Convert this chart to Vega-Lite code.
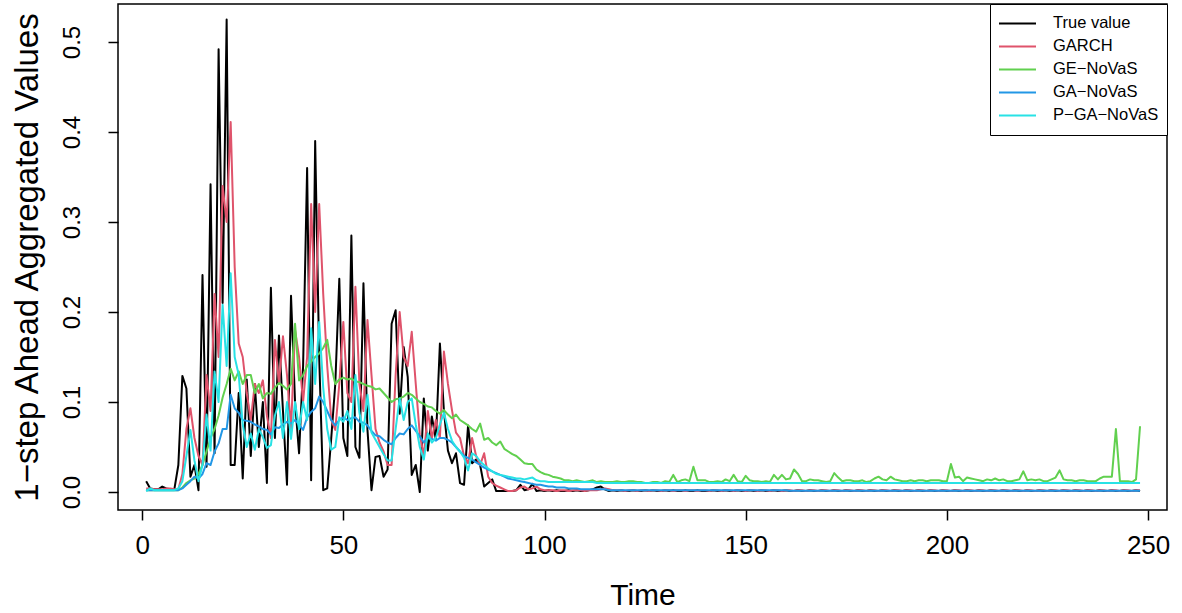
{
"$schema": "https://vega.github.io/schema/vega-lite/v6.json",
"width": 1049, "height": 506,
"autosize": {"type": "none"},
"padding": {"left": 118, "top": 4, "right": 15, "bottom": 103},
"background": "white",
"config": {
  "font": "Liberation Sans",
  "view": {"stroke": "black", "strokeWidth": 1.5},
  "axis": {"grid": false, "domain": false, "tickColor": "black", "tickWidth": 1.5, "tickSize": 10, "labelColor": "black", "titleColor": "black", "titleFontWeight": "normal"}
},
"data": {"values": [
{"t":1,"tv":0.012,"garch":0.004,"ge":0.002,"ga":0.002,"pga":0.001},
{"t":2,"tv":0.004,"garch":0.004,"ge":0.002,"ga":0.002,"pga":0.004},
{"t":3,"tv":0.003,"garch":0.003,"ge":0.002,"ga":0.002,"pga":0.002},
{"t":4,"tv":0.003,"garch":0.003,"ge":0.002,"ga":0.002,"pga":0.002},
{"t":5,"tv":0.006,"garch":0.003,"ge":0.002,"ga":0.002,"pga":0.002},
{"t":6,"tv":0.004,"garch":0.004,"ge":0.002,"ga":0.002,"pga":0.002},
{"t":7,"tv":0.003,"garch":0.004,"ge":0.002,"ga":0.002,"pga":0.002},
{"t":8,"tv":0.003,"garch":0.003,"ge":0.002,"ga":0.002,"pga":0.002},
{"t":9,"tv":0.030,"garch":0.003,"ge":0.002,"ga":0.002,"pga":0.004},
{"t":10,"tv":0.129,"garch":0.02,"ge":0.005,"ga":0.004,"pga":0.012},
{"t":11,"tv":0.115,"garch":0.07,"ge":0.01,"ga":0.008,"pga":0.04},
{"t":12,"tv":0.017,"garch":0.093,"ge":0.013,"ga":0.012,"pga":0.069},
{"t":13,"tv":0.030,"garch":0.06,"ge":0.015,"ga":0.017,"pga":0.035},
{"t":14,"tv":0.002,"garch":0.04,"ge":0.02,"ga":0.015,"pga":0.012},
{"t":15,"tv":0.241,"garch":0.03,"ge":0.03,"ga":0.02,"pga":0.03},
{"t":16,"tv":0.028,"garch":0.13,"ge":0.045,"ga":0.032,"pga":0.086},
{"t":17,"tv":0.342,"garch":0.09,"ge":0.06,"ga":0.03,"pga":0.046},
{"t":18,"tv":0.043,"garch":0.22,"ge":0.07,"ga":0.045,"pga":0.134},
{"t":19,"tv":0.492,"garch":0.15,"ge":0.085,"ga":0.054,"pga":0.1},
{"t":20,"tv":0.21,"garch":0.34,"ge":0.105,"ga":0.07,"pga":0.208},
{"t":21,"tv":0.525,"garch":0.30,"ge":0.12,"ga":0.07,"pga":0.14},
{"t":22,"tv":0.030,"garch":0.411,"ge":0.137,"ga":0.108,"pga":0.243},
{"t":23,"tv":0.030,"garch":0.25,"ge":0.124,"ga":0.093,"pga":0.15},
{"t":24,"tv":0.11,"garch":0.165,"ge":0.134,"ga":0.088,"pga":0.13},
{"t":25,"tv":0.015,"garch":0.15,"ge":0.12,"ga":0.08,"pga":0.075},
{"t":26,"tv":0.125,"garch":0.11,"ge":0.13,"ga":0.079,"pga":0.05},
{"t":27,"tv":0.04,"garch":0.08,"ge":0.13,"ga":0.078,"pga":0.065},
{"t":28,"tv":0.12,"garch":0.12,"ge":0.11,"ga":0.075,"pga":0.047},
{"t":29,"tv":0.05,"garch":0.11,"ge":0.12,"ga":0.073,"pga":0.07},
{"t":30,"tv":0.10,"garch":0.124,"ge":0.104,"ga":0.07,"pga":0.061},
{"t":31,"tv":0.010,"garch":0.085,"ge":0.11,"ga":0.069,"pga":0.049},
{"t":32,"tv":0.227,"garch":0.06,"ge":0.109,"ga":0.064,"pga":0.052},
{"t":33,"tv":0.06,"garch":0.169,"ge":0.116,"ga":0.072,"pga":0.085},
{"t":34,"tv":0.174,"garch":0.12,"ge":0.121,"ga":0.071,"pga":0.1},
{"t":35,"tv":0.09,"garch":0.173,"ge":0.118,"ga":0.075,"pga":0.06},
{"t":36,"tv":0.008,"garch":0.13,"ge":0.114,"ga":0.078,"pga":0.1},
{"t":37,"tv":0.218,"garch":0.07,"ge":0.12,"ga":0.076,"pga":0.059},
{"t":38,"tv":0.10,"garch":0.18,"ge":0.187,"ga":0.08,"pga":0.1},
{"t":39,"tv":0.043,"garch":0.15,"ge":0.124,"ga":0.075,"pga":0.07},
{"t":40,"tv":0.14,"garch":0.10,"ge":0.13,"ga":0.069,"pga":0.1},
{"t":41,"tv":0.36,"garch":0.15,"ge":0.14,"ga":0.083,"pga":0.08},
{"t":42,"tv":0.013,"garch":0.32,"ge":0.145,"ga":0.089,"pga":0.182},
{"t":43,"tv":0.39,"garch":0.20,"ge":0.15,"ga":0.093,"pga":0.12},
{"t":44,"tv":0.15,"garch":0.32,"ge":0.154,"ga":0.106,"pga":0.189},
{"t":45,"tv":0.002,"garch":0.22,"ge":0.16,"ga":0.1,"pga":0.116},
{"t":46,"tv":0.004,"garch":0.14,"ge":0.169,"ga":0.09,"pga":0.07},
{"t":47,"tv":0.06,"garch":0.08,"ge":0.14,"ga":0.08,"pga":0.047},
{"t":48,"tv":0.12,"garch":0.069,"ge":0.12,"ga":0.074,"pga":0.05},
{"t":49,"tv":0.237,"garch":0.12,"ge":0.125,"ga":0.08,"pga":0.083},
{"t":50,"tv":0.06,"garch":0.189,"ge":0.127,"ga":0.083,"pga":0.078},
{"t":51,"tv":0.04,"garch":0.11,"ge":0.125,"ga":0.08,"pga":0.09},
{"t":52,"tv":0.285,"garch":0.10,"ge":0.126,"ga":0.082,"pga":0.07},
{"t":53,"tv":0.05,"garch":0.228,"ge":0.123,"ga":0.083,"pga":0.13},
{"t":54,"tv":0.038,"garch":0.12,"ge":0.122,"ga":0.078,"pga":0.088},
{"t":55,"tv":0.232,"garch":0.09,"ge":0.12,"ga":0.077,"pga":0.067},
{"t":56,"tv":0.069,"garch":0.191,"ge":0.118,"ga":0.074,"pga":0.108},
{"t":57,"tv":0.002,"garch":0.13,"ge":0.117,"ga":0.068,"pga":0.066},
{"t":58,"tv":0.039,"garch":0.07,"ge":0.114,"ga":0.063,"pga":0.058},
{"t":59,"tv":0.040,"garch":0.055,"ge":0.115,"ga":0.062,"pga":0.05},
{"t":60,"tv":0.017,"garch":0.045,"ge":0.11,"ga":0.058,"pga":0.042},
{"t":61,"tv":0.025,"garch":0.03,"ge":0.105,"ga":0.055,"pga":0.035},
{"t":62,"tv":0.187,"garch":0.03,"ge":0.10,"ga":0.053,"pga":0.035},
{"t":63,"tv":0.202,"garch":0.13,"ge":0.103,"ga":0.06,"pga":0.07},
{"t":64,"tv":0.087,"garch":0.20,"ge":0.104,"ga":0.065,"pga":0.104},
{"t":65,"tv":0.161,"garch":0.15,"ge":0.106,"ga":0.064,"pga":0.08},
{"t":66,"tv":0.128,"garch":0.14,"ge":0.11,"ga":0.07,"pga":0.1},
{"t":67,"tv":0.019,"garch":0.178,"ge":0.108,"ga":0.074,"pga":0.104},
{"t":68,"tv":0.030,"garch":0.12,"ge":0.104,"ga":0.068,"pga":0.075},
{"t":69,"tv":0.000,"garch":0.064,"ge":0.10,"ga":0.062,"pga":0.05},
{"t":70,"tv":0.104,"garch":0.04,"ge":0.098,"ga":0.055,"pga":0.036},
{"t":71,"tv":0.046,"garch":0.09,"ge":0.095,"ga":0.06,"pga":0.065},
{"t":72,"tv":0.084,"garch":0.06,"ge":0.094,"ga":0.059,"pga":0.055},
{"t":73,"tv":0.058,"garch":0.08,"ge":0.09,"ga":0.057,"pga":0.06},
{"t":74,"tv":0.165,"garch":0.06,"ge":0.087,"ga":0.06,"pga":0.075},
{"t":75,"tv":0.09,"garch":0.156,"ge":0.091,"ga":0.06,"pga":0.088},
{"t":76,"tv":0.046,"garch":0.12,"ge":0.086,"ga":0.058,"pga":0.07},
{"t":77,"tv":0.032,"garch":0.091,"ge":0.082,"ga":0.055,"pga":0.057},
{"t":78,"tv":0.043,"garch":0.066,"ge":0.086,"ga":0.05,"pga":0.05},
{"t":79,"tv":0.010,"garch":0.06,"ge":0.08,"ga":0.045,"pga":0.045},
{"t":80,"tv":0.008,"garch":0.04,"ge":0.077,"ga":0.04,"pga":0.038},
{"t":81,"tv":0.074,"garch":0.032,"ge":0.074,"ga":0.038,"pga":0.024},
{"t":82,"tv":0.032,"garch":0.06,"ge":0.07,"ga":0.036,"pga":0.043},
{"t":83,"tv":0.036,"garch":0.04,"ge":0.067,"ga":0.033,"pga":0.04},
{"t":84,"tv":0.030,"garch":0.03,"ge":0.076,"ga":0.03,"pga":0.034},
{"t":85,"tv":0.006,"garch":0.043,"ge":0.058,"ga":0.027,"pga":0.03},
{"t":86,"tv":0.010,"garch":0.017,"ge":0.06,"ga":0.025,"pga":0.026},
{"t":87,"tv":0.014,"garch":0.01,"ge":0.055,"ga":0.023,"pga":0.023},
{"t":88,"tv":0.001,"garch":0.007,"ge":0.052,"ga":0.021,"pga":0.02},
{"t":89,"tv":0.001,"garch":0.005,"ge":0.056,"ga":0.019,"pga":0.019},
{"t":90,"tv":0.001,"garch":0.003,"ge":0.048,"ga":0.017,"pga":0.018},
{"t":91,"tv":0.001,"garch":0.001,"ge":0.045,"ga":0.015,"pga":0.017},
{"t":92,"tv":0.001,"garch":0.001,"ge":0.042,"ga":0.014,"pga":0.016},
{"t":93,"tv":0.002,"garch":0.002,"ge":0.04,"ga":0.013,"pga":0.015},
{"t":94,"tv":0.008,"garch":0.005,"ge":0.036,"ga":0.012,"pga":0.015},
{"t":95,"tv":0.002,"garch":0.006,"ge":0.032,"ga":0.011,"pga":0.014},
{"t":96,"tv":0.003,"garch":0.003,"ge":0.031,"ga":0.01,"pga":0.015},
{"t":97,"tv":0.009,"garch":0.004,"ge":0.031,"ga":0.009,"pga":0.016},
{"t":98,"tv":0.001,"garch":0.006,"ge":0.025,"ga":0.008,"pga":0.013},
{"t":99,"tv":0.002,"garch":0.003,"ge":0.022,"ga":0.008,"pga":0.012},
{"t":100,"tv":0.001,"garch":0.002,"ge":0.02,"ga":0.007,"pga":0.012},
{"t":101,"tv":0.002,"garch":0.002,"ge":0.019,"ga":0.006,"pga":0.011},
{"t":102,"tv":0.001,"garch":0.002,"ge":0.017,"ga":0.006,"pga":0.011},
{"t":103,"tv":0.002,"garch":0.001,"ge":0.016,"ga":0.005,"pga":0.011},
{"t":104,"tv":0.001,"garch":0.002,"ge":0.015,"ga":0.005,"pga":0.011},
{"t":105,"tv":0.001,"garch":0.002,"ge":0.013,"ga":0.005,"pga":0.011},
{"t":106,"tv":0.002,"garch":0.001,"ge":0.013,"ga":0.004,"pga":0.011},
{"t":107,"tv":0.001,"garch":0.002,"ge":0.012,"ga":0.004,"pga":0.011},
{"t":108,"tv":0.002,"garch":0.002,"ge":0.013,"ga":0.004,"pga":0.011},
{"t":109,"tv":0.001,"garch":0.002,"ge":0.012,"ga":0.003,"pga":0.011},
{"t":110,"tv":0.001,"garch":0.001,"ge":0.011,"ga":0.003,"pga":0.011},
{"t":111,"tv":0.002,"garch":0.002,"ge":0.012,"ga":0.003,"pga":0.011},
{"t":112,"tv":0.003,"garch":0.002,"ge":0.013,"ga":0.003,"pga":0.011},
{"t":113,"tv":0.005,"garch":0.002,"ge":0.011,"ga":0.003,"pga":0.010},
{"t":114,"tv":0.006,"garch":0.003,"ge":0.012,"ga":0.003,"pga":0.010},
{"t":115,"tv":0.003,"garch":0.004,"ge":0.011,"ga":0.003,"pga":0.010},
{"t":116,"tv":0.001,"garch":0.003,"ge":0.011,"ga":0.002,"pga":0.010},
{"t":117,"tv":0.002,"garch":0.002,"ge":0.011,"ga":0.002,"pga":0.010},
{"t":118,"tv":0.001,"garch":0.002,"ge":0.012,"ga":0.002,"pga":0.010},
{"t":119,"tv":0.002,"garch":0.002,"ge":0.011,"ga":0.002,"pga":0.010},
{"t":120,"tv":0.001,"garch":0.001,"ge":0.011,"ga":0.002,"pga":0.010},
{"t":121,"tv":0.001,"garch":0.002,"ge":0.012,"ga":0.002,"pga":0.010},
{"t":122,"tv":0.002,"garch":0.002,"ge":0.012,"ga":0.002,"pga":0.010},
{"t":123,"tv":0.001,"garch":0.001,"ge":0.011,"ga":0.002,"pga":0.010},
{"t":124,"tv":0.001,"garch":0.002,"ge":0.011,"ga":0.002,"pga":0.010},
{"t":125,"tv":0.002,"garch":0.002,"ge":0.010,"ga":0.002,"pga":0.010},
{"t":126,"tv":0.001,"garch":0.001,"ge":0.010,"ga":0.002,"pga":0.010},
{"t":127,"tv":0.002,"garch":0.002,"ge":0.011,"ga":0.002,"pga":0.010},
{"t":128,"tv":0.001,"garch":0.002,"ge":0.011,"ga":0.002,"pga":0.010},
{"t":129,"tv":0.001,"garch":0.001,"ge":0.010,"ga":0.002,"pga":0.010},
{"t":130,"tv":0.002,"garch":0.002,"ge":0.012,"ga":0.002,"pga":0.010},
{"t":131,"tv":0.001,"garch":0.002,"ge":0.011,"ga":0.002,"pga":0.010},
{"t":132,"tv":0.002,"garch":0.001,"ge":0.019,"ga":0.002,"pga":0.010},
{"t":133,"tv":0.001,"garch":0.002,"ge":0.011,"ga":0.002,"pga":0.010},
{"t":134,"tv":0.001,"garch":0.002,"ge":0.013,"ga":0.002,"pga":0.010},
{"t":135,"tv":0.002,"garch":0.001,"ge":0.014,"ga":0.002,"pga":0.010},
{"t":136,"tv":0.001,"garch":0.002,"ge":0.012,"ga":0.002,"pga":0.010},
{"t":137,"tv":0.001,"garch":0.002,"ge":0.028,"ga":0.002,"pga":0.010},
{"t":138,"tv":0.002,"garch":0.001,"ge":0.013,"ga":0.002,"pga":0.010},
{"t":139,"tv":0.001,"garch":0.002,"ge":0.013,"ga":0.002,"pga":0.010},
{"t":140,"tv":0.001,"garch":0.002,"ge":0.013,"ga":0.002,"pga":0.010},
{"t":141,"tv":0.001,"garch":0.001,"ge":0.011,"ga":0.002,"pga":0.010},
{"t":142,"tv":0.002,"garch":0.002,"ge":0.011,"ga":0.002,"pga":0.010},
{"t":143,"tv":0.001,"garch":0.002,"ge":0.012,"ga":0.002,"pga":0.010},
{"t":144,"tv":0.001,"garch":0.001,"ge":0.011,"ga":0.002,"pga":0.010},
{"t":145,"tv":0.002,"garch":0.002,"ge":0.014,"ga":0.002,"pga":0.010},
{"t":146,"tv":0.001,"garch":0.002,"ge":0.012,"ga":0.002,"pga":0.010},
{"t":147,"tv":0.001,"garch":0.001,"ge":0.019,"ga":0.002,"pga":0.010},
{"t":148,"tv":0.002,"garch":0.002,"ge":0.012,"ga":0.002,"pga":0.010},
{"t":149,"tv":0.001,"garch":0.002,"ge":0.011,"ga":0.002,"pga":0.010},
{"t":150,"tv":0.001,"garch":0.001,"ge":0.018,"ga":0.002,"pga":0.010},
{"t":151,"tv":0.002,"garch":0.002,"ge":0.013,"ga":0.002,"pga":0.010},
{"t":152,"tv":0.001,"garch":0.002,"ge":0.012,"ga":0.002,"pga":0.010},
{"t":153,"tv":0.001,"garch":0.001,"ge":0.012,"ga":0.002,"pga":0.010},
{"t":154,"tv":0.002,"garch":0.002,"ge":0.011,"ga":0.002,"pga":0.010},
{"t":155,"tv":0.001,"garch":0.002,"ge":0.012,"ga":0.002,"pga":0.010},
{"t":156,"tv":0.001,"garch":0.001,"ge":0.011,"ga":0.002,"pga":0.010},
{"t":157,"tv":0.002,"garch":0.002,"ge":0.019,"ga":0.002,"pga":0.010},
{"t":158,"tv":0.001,"garch":0.002,"ge":0.014,"ga":0.002,"pga":0.010},
{"t":159,"tv":0.001,"garch":0.001,"ge":0.019,"ga":0.002,"pga":0.010},
{"t":160,"tv":0.002,"garch":0.002,"ge":0.014,"ga":0.002,"pga":0.010},
{"t":161,"tv":0.001,"garch":0.002,"ge":0.015,"ga":0.0015,"pga":0.010},
{"t":162,"tv":0.001,"garch":0.001,"ge":0.025,"ga":0.0015,"pga":0.010},
{"t":163,"tv":0.002,"garch":0.002,"ge":0.020,"ga":0.0015,"pga":0.010},
{"t":164,"tv":0.001,"garch":0.002,"ge":0.012,"ga":0.0015,"pga":0.010},
{"t":165,"tv":0.001,"garch":0.001,"ge":0.012,"ga":0.0015,"pga":0.010},
{"t":166,"tv":0.002,"garch":0.002,"ge":0.014,"ga":0.0015,"pga":0.010},
{"t":167,"tv":0.001,"garch":0.002,"ge":0.013,"ga":0.0015,"pga":0.010},
{"t":168,"tv":0.001,"garch":0.001,"ge":0.013,"ga":0.0015,"pga":0.010},
{"t":169,"tv":0.002,"garch":0.002,"ge":0.012,"ga":0.0015,"pga":0.010},
{"t":170,"tv":0.001,"garch":0.002,"ge":0.011,"ga":0.0015,"pga":0.010},
{"t":171,"tv":0.001,"garch":0.001,"ge":0.012,"ga":0.0015,"pga":0.010},
{"t":172,"tv":0.002,"garch":0.002,"ge":0.021,"ga":0.0015,"pga":0.010},
{"t":173,"tv":0.001,"garch":0.002,"ge":0.016,"ga":0.0015,"pga":0.010},
{"t":174,"tv":0.001,"garch":0.001,"ge":0.012,"ga":0.0015,"pga":0.010},
{"t":175,"tv":0.002,"garch":0.002,"ge":0.013,"ga":0.0015,"pga":0.010},
{"t":176,"tv":0.001,"garch":0.002,"ge":0.013,"ga":0.0015,"pga":0.010},
{"t":177,"tv":0.001,"garch":0.001,"ge":0.012,"ga":0.0015,"pga":0.010},
{"t":178,"tv":0.002,"garch":0.002,"ge":0.012,"ga":0.0015,"pga":0.010},
{"t":179,"tv":0.001,"garch":0.002,"ge":0.013,"ga":0.0015,"pga":0.010},
{"t":180,"tv":0.001,"garch":0.001,"ge":0.011,"ga":0.0015,"pga":0.010},
{"t":181,"tv":0.002,"garch":0.002,"ge":0.012,"ga":0.0015,"pga":0.010},
{"t":182,"tv":0.001,"garch":0.002,"ge":0.015,"ga":0.0015,"pga":0.010},
{"t":183,"tv":0.001,"garch":0.001,"ge":0.017,"ga":0.0015,"pga":0.010},
{"t":184,"tv":0.002,"garch":0.002,"ge":0.014,"ga":0.0015,"pga":0.010},
{"t":185,"tv":0.001,"garch":0.002,"ge":0.013,"ga":0.0015,"pga":0.010},
{"t":186,"tv":0.001,"garch":0.001,"ge":0.017,"ga":0.0015,"pga":0.010},
{"t":187,"tv":0.002,"garch":0.002,"ge":0.014,"ga":0.0015,"pga":0.010},
{"t":188,"tv":0.001,"garch":0.002,"ge":0.013,"ga":0.0015,"pga":0.010},
{"t":189,"tv":0.001,"garch":0.001,"ge":0.012,"ga":0.0015,"pga":0.010},
{"t":190,"tv":0.002,"garch":0.002,"ge":0.012,"ga":0.0015,"pga":0.010},
{"t":191,"tv":0.001,"garch":0.002,"ge":0.013,"ga":0.0015,"pga":0.010},
{"t":192,"tv":0.001,"garch":0.001,"ge":0.012,"ga":0.0015,"pga":0.010},
{"t":193,"tv":0.002,"garch":0.002,"ge":0.013,"ga":0.0015,"pga":0.010},
{"t":194,"tv":0.001,"garch":0.002,"ge":0.013,"ga":0.0015,"pga":0.010},
{"t":195,"tv":0.001,"garch":0.001,"ge":0.012,"ga":0.0015,"pga":0.010},
{"t":196,"tv":0.002,"garch":0.002,"ge":0.013,"ga":0.0015,"pga":0.010},
{"t":197,"tv":0.001,"garch":0.002,"ge":0.013,"ga":0.0015,"pga":0.010},
{"t":198,"tv":0.001,"garch":0.001,"ge":0.013,"ga":0.0015,"pga":0.010},
{"t":199,"tv":0.002,"garch":0.002,"ge":0.012,"ga":0.0015,"pga":0.010},
{"t":200,"tv":0.001,"garch":0.002,"ge":0.012,"ga":0.0015,"pga":0.010},
{"t":201,"tv":0.001,"garch":0.001,"ge":0.031,"ga":0.0015,"pga":0.010},
{"t":202,"tv":0.002,"garch":0.002,"ge":0.016,"ga":0.0015,"pga":0.010},
{"t":203,"tv":0.001,"garch":0.002,"ge":0.017,"ga":0.0015,"pga":0.010},
{"t":204,"tv":0.001,"garch":0.001,"ge":0.012,"ga":0.0015,"pga":0.010},
{"t":205,"tv":0.002,"garch":0.002,"ge":0.016,"ga":0.0015,"pga":0.010},
{"t":206,"tv":0.001,"garch":0.002,"ge":0.015,"ga":0.0015,"pga":0.010},
{"t":207,"tv":0.001,"garch":0.001,"ge":0.014,"ga":0.0015,"pga":0.010},
{"t":208,"tv":0.002,"garch":0.002,"ge":0.013,"ga":0.0015,"pga":0.010},
{"t":209,"tv":0.001,"garch":0.002,"ge":0.012,"ga":0.0015,"pga":0.010},
{"t":210,"tv":0.001,"garch":0.001,"ge":0.014,"ga":0.0015,"pga":0.010},
{"t":211,"tv":0.002,"garch":0.002,"ge":0.013,"ga":0.0015,"pga":0.010},
{"t":212,"tv":0.001,"garch":0.002,"ge":0.015,"ga":0.0015,"pga":0.010},
{"t":213,"tv":0.001,"garch":0.001,"ge":0.013,"ga":0.0015,"pga":0.010},
{"t":214,"tv":0.002,"garch":0.002,"ge":0.014,"ga":0.0015,"pga":0.010},
{"t":215,"tv":0.001,"garch":0.002,"ge":0.012,"ga":0.0015,"pga":0.010},
{"t":216,"tv":0.001,"garch":0.001,"ge":0.012,"ga":0.0015,"pga":0.010},
{"t":217,"tv":0.002,"garch":0.002,"ge":0.013,"ga":0.0015,"pga":0.010},
{"t":218,"tv":0.001,"garch":0.002,"ge":0.014,"ga":0.0015,"pga":0.010},
{"t":219,"tv":0.001,"garch":0.001,"ge":0.023,"ga":0.0015,"pga":0.010},
{"t":220,"tv":0.002,"garch":0.002,"ge":0.013,"ga":0.0015,"pga":0.010},
{"t":221,"tv":0.001,"garch":0.002,"ge":0.014,"ga":0.0015,"pga":0.010},
{"t":222,"tv":0.001,"garch":0.001,"ge":0.013,"ga":0.0015,"pga":0.010},
{"t":223,"tv":0.002,"garch":0.002,"ge":0.014,"ga":0.0015,"pga":0.010},
{"t":224,"tv":0.001,"garch":0.002,"ge":0.012,"ga":0.0015,"pga":0.010},
{"t":225,"tv":0.001,"garch":0.001,"ge":0.012,"ga":0.0015,"pga":0.010},
{"t":226,"tv":0.002,"garch":0.002,"ge":0.014,"ga":0.0015,"pga":0.010},
{"t":227,"tv":0.001,"garch":0.002,"ge":0.016,"ga":0.0015,"pga":0.010},
{"t":228,"tv":0.001,"garch":0.001,"ge":0.024,"ga":0.0015,"pga":0.010},
{"t":229,"tv":0.002,"garch":0.002,"ge":0.014,"ga":0.0015,"pga":0.010},
{"t":230,"tv":0.001,"garch":0.002,"ge":0.013,"ga":0.0015,"pga":0.010},
{"t":231,"tv":0.001,"garch":0.001,"ge":0.013,"ga":0.0015,"pga":0.010},
{"t":232,"tv":0.002,"garch":0.002,"ge":0.012,"ga":0.0015,"pga":0.010},
{"t":233,"tv":0.001,"garch":0.002,"ge":0.013,"ga":0.0015,"pga":0.010},
{"t":234,"tv":0.001,"garch":0.001,"ge":0.013,"ga":0.0015,"pga":0.010},
{"t":235,"tv":0.002,"garch":0.002,"ge":0.012,"ga":0.0015,"pga":0.010},
{"t":236,"tv":0.001,"garch":0.002,"ge":0.012,"ga":0.0015,"pga":0.010},
{"t":237,"tv":0.001,"garch":0.001,"ge":0.012,"ga":0.0015,"pga":0.010},
{"t":238,"tv":0.002,"garch":0.002,"ge":0.015,"ga":0.0015,"pga":0.010},
{"t":239,"tv":0.001,"garch":0.002,"ge":0.017,"ga":0.0015,"pga":0.010},
{"t":240,"tv":0.001,"garch":0.001,"ge":0.017,"ga":0.0015,"pga":0.010},
{"t":241,"tv":0.002,"garch":0.002,"ge":0.017,"ga":0.0015,"pga":0.010},
{"t":242,"tv":0.001,"garch":0.002,"ge":0.070,"ga":0.0015,"pga":0.010},
{"t":243,"tv":0.001,"garch":0.001,"ge":0.012,"ga":0.0015,"pga":0.010},
{"t":244,"tv":0.002,"garch":0.002,"ge":0.012,"ga":0.0015,"pga":0.010},
{"t":245,"tv":0.001,"garch":0.002,"ge":0.012,"ga":0.0015,"pga":0.010},
{"t":246,"tv":0.001,"garch":0.001,"ge":0.011,"ga":0.0015,"pga":0.010},
{"t":247,"tv":0.002,"garch":0.002,"ge":0.014,"ga":0.0015,"pga":0.010},
{"t":248,"tv":0.001,"garch":0.002,"ge":0.073,"ga":0.0015,"pga":0.010}
]},
"transform": [{"fold": ["tv", "garch", "ge", "ga", "pga"], "as": ["series", "value"]}],
"mark": {"type": "line", "strokeWidth": 2, "strokeJoin": "round"},
"encoding": {
  "x": {"field": "t", "type": "quantitative", "scale": {"domain": [-6, 254.7], "nice": false, "zero": false},
        "axis": {"values": [0, 50, 100, 150, 200, 250], "title": "Time", "labelFont": "Liberation Sans Narrow, Liberation Sans", "labelFontSize": 26, "titleFont": "Liberation Sans Narrow, Liberation Sans", "titleFontSize": 30, "labelPadding": 12, "titlePadding": 22, "labelFlush": false}},
  "y": {"field": "value", "type": "quantitative", "scale": {"domain": [-0.02, 0.5422], "nice": false, "zero": false},
        "axis": {"values": [0, 0.1, 0.2, 0.3, 0.4, 0.5], "format": ".1f", "labelFont": "Liberation Sans", "labelFontSize": 24, "labelAngle": -90, "labelAlign": "center", "labelBaseline": "bottom", "labelPadding": 24, "title": "1−step Ahead Aggregated Values", "titleFont": "Liberation Sans", "titleFontSize": 33, "titlePadding": 16}},
  "color": {"field": "series", "type": "nominal",
    "scale": {"domain": ["tv", "garch", "ge", "ga", "pga"], "range": ["#000000", "#DF536B", "#61D04F", "#2297E6", "#28E2E5"]},
    "legend": {"title": null, "orient": "top-right", "offset": 0, "strokeColor": "black", "fillColor": "white", "padding": 8, "rowPadding": 0, "clipHeight": 22.75,
      "symbolType": "stroke", "symbolStrokeWidth": 2, "symbolSize": 1369, "symbolOffset": 0, "labelFontSize": 16.5, "labelFont": "Liberation Sans", "labelColor": "black", "labelOffset": 16,
      "labelExpr": "{'tv':'True value','garch':'GARCH','ge':'GE−NoVaS','ga':'GA−NoVaS','pga':'P−GA−NoVaS'}[datum.label]"}}
}
}
